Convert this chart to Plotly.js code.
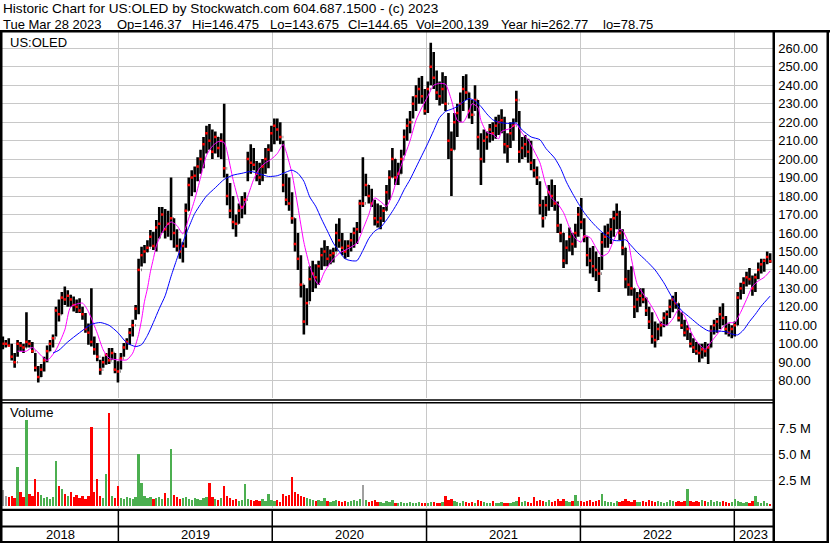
<!DOCTYPE html>
<html><head><meta charset="utf-8">
<script src="https://cdn.plot.ly/plotly-3.0.1.min.js"></script>
<style>html,body{margin:0;padding:0;background:#fff;overflow:hidden}</style>
</head><body><div id="chart" style="width:830px;height:543px"></div>
<script>
// ---------------- DATA (weekly bars) ----------------
const weekStart = '2018-04-02';
const high = [104,102,103,100,95,102,101,100,117,102,101,95,88,89,93,99,102,105,120,124,
128,131,129,126.5,125.6,124,124.7,120,116.6,111,130,104,100.4,91.4,93,95,97.7,97.7,95,90.5,
95,100.4,103,108.5,113,121,146,152.6,153.5,156,161.6,160.7,167,174,174,173,172,190,168,162,
157,155,176,190,194,196,201,205,212,218,219,216,215,212,214,230,192,187,180,170,
176,180,182,204,208,206,199,198,200,206,208,218,222,222,220,210,192,190,182,168,
160,148,132,130,142,145,143,145,152,156,153,151,152,165,168,160,156,156,160,163,
166,178,201,192,186,184,178,176,175,174,186,194,206,200,198,205,216,222,226,234,
240,244,245,238,242,263,258,248,242,247,245,225,215,225,230,236,245,246,236,232,
240,232,214,216,215,219,220,223,224,227,223,214,220,222,237,226,212,213,211,210,
200,196,188,178,180,186,189,186,177,165,160,156,163,160,165,174,179,168,158,152,
153,150,147,160,164,165,168,172,176,172,162,152,140,142,130,128,130,130,125,120,
117,112,111,112,117,118,124,126,128,122,117,113,110,106,103,101,100,100,101,100,
110,113,114,120,122,115,111,110,112,128,133,136,139,141,137,138,144,146,146,150,
149];
const low = [97,98,99,91,87,93,96,95,98,98,95,85,79,82,85,90,96,98,104,112,
116,121,120,120,117.5,116.6,116.6,113,106,99.5,98.5,94,90.5,83.2,87,88.7,89,91.4,84,79,
86,93,96.8,99.5,104,113,116,141.8,143.6,149.5,152.6,150.8,150,157,160,157,158,156,152,150,
146,144,152,172,180,182,188,192,195,203,205,200,203,201,200,190,175,168,162,158,
165,168,170,188,192,194,188,186,188,192,195,204,208,210,208,182,175,172,165,150,
140,125,105,110,123,128,130,132,140,142,142,143,144,150,152,148,146,147,150,152,
154,160,174,180,176,174,164,163,162,166,172,178,190,186,186,192,202,210,214,222,
226,230,230,224,225,240,238,232,229,230,226,200,180,205,212,220,226,232,222,219,
226,205,186,198,205,209,210,211,213,214,203,198,206,210,220,198,200,201,198,194,
190,186,170,163,169,172,174,172,160,155,141,143,150,148,152,158,162,155,142,138,
136,134,128,140,152,152,154,158,162,156,148,130,126,126,114,117,120,122,115,108,
100,98,102,104,109,110,114,117,119,112,108,104,102,98,95,94,90,92,93,89,
98,105,106,108,110,105,104,103,104,110,124,127,131,132,126,128,135,138,139,143,
143.675];
const close = [100,100,99,93,90,100,99,98,101,100,96,87,82,86,91,96,100,103,118,116,
125,124,126,124,121,120,118,116,108,106,101,97,93,86,90,94,91,95,86,85,
92,98,101,106,110,119,140,148,150,152,158,153,163,165,170,162,165,168,160,153,
150,153,172,186,190,191,196,200,208,214,210,204,212,206,210,195,180,172,166,165,
172,174,178,200,198,197,192,190,196,200,205,214,218,216,212,186,178,176,168,154,
146,132,112,122,135,138,136,142,148,150,146,148,149,160,156,152,150,153,156,160,
162,176,176,186,180,176,168,166,168,172,182,190,200,190,192,200,212,218,220,230,
234,238,234,226,238,250,244,236,234,238,230,210,205,220,225,230,238,236,226,224,
232,212,200,210,212,216,214,218,220,221,208,207,214,218,232,204,206,208,204,198,
194,190,175,168,175,182,180,176,164,160,145,152,158,154,160,170,166,158,148,145,
142,140,138,155,158,160,162,168,170,160,152,135,132,130,120,124,126,124,118,112,
104,102,108,110,114,116,120,124,122,114,110,106,108,100,98,96,95,97,96,98,
107,110,112,116,114,108,106,108,110,125,130,133,136,135,130,136,140,143,145,147,
144.65];
const firstOpen = 100;
// weekly volume, millions of shares
const volumeM = [1.5,1.0,0.9,1.0,0.8,3.8,1.3,0.9,8.3,1.2,
1.0,2.57,1.3,1.1,0.8,0.9,0.7,0.9,4.35,1.9,
1.6,1.2,1.0,1.3,0.9,1.1,0.8,1.0,0.7,1.0,
7.65,1.3,2.57,1.0,0.8,3.1,9.0,1.0,0.8,1.93,
0.8,0.7,0.9,0.8,0.7,0.9,5.0,2.2,1.0,0.8,
0.9,0.7,0.8,0.9,0.7,1.25,0.8,5.5,1.1,0.9,
0.7,0.8,0.9,0.7,0.6,0.8,0.7,0.6,0.8,0.9,
2.25,0.9,0.7,0.6,0.8,1.93,1.0,0.8,0.6,0.7,
0.5,0.6,2.1,0.7,0.6,0.5,0.6,0.5,0.7,0.5,
1.2,0.6,0.5,0.6,0.4,1.2,1.0,1.1,2.77,1.3,
1.2,1.0,0.9,0.8,0.7,0.6,0.5,0.6,0.5,0.8,
0.5,0.4,0.5,0.6,0.5,0.4,0.5,0.4,0.5,0.6,
0.5,0.7,2.03,0.6,0.4,0.5,0.6,0.4,0.4,0.3,
0.5,0.4,0.6,0.3,0.3,0.4,0.3,0.3,0.4,0.3,
0.3,0.4,0.3,0.3,0.3,0.4,0.4,0.3,0.3,0.4,
0.97,0.6,0.7,0.5,0.4,0.3,0.5,0.4,0.3,0.4,
0.3,0.6,0.5,0.4,0.3,0.3,0.5,0.3,0.3,0.4,
0.3,0.3,0.3,0.4,0.5,0.85,0.4,0.5,0.4,0.3,
0.85,0.5,0.6,0.5,0.4,0.6,0.4,0.5,0.7,0.5,
0.7,0.5,0.4,0.5,1.1,0.5,0.5,0.4,0.5,0.6,
0.4,0.5,0.6,1.2,0.5,0.4,0.4,0.3,0.5,0.4,
0.5,0.7,0.5,0.4,0.6,0.4,0.4,0.5,0.4,0.6,
0.5,0.4,0.5,0.4,0.3,0.4,0.6,0.5,0.4,0.5,
0.4,0.5,1.64,0.5,0.4,0.5,0.4,0.6,0.5,0.4,
0.6,0.4,0.5,0.4,0.5,0.4,0.3,0.4,0.7,0.5,
0.4,0.3,0.4,0.3,0.5,0.97,0.4,0.3,0.5,0.3,
0.2];
// short moving average (magenta), read at week indices
const magIdx = [5,8,10,15,18,21,23,27,29,32,34,36,39,42,44,46,47,48,49,50,
51,52,53,55,57,59,61,63,65,67,69,71,73,75,76,78,80,81,83,85,
87,89,91,93,95,96,98,100,102,104,106,107,109,111,114,117,120,122,124,126,
128,130,132,134,136,138,140,142,144,146,148,150,152,154,156,158,159,161,162,164,
166,168,169,172,174,176,178,180,182,184,186,188,190,192,194,196,197,199,201,203,
205,207,209,210,212,213,215,217,219,221,223,225,227,229,231,233,235,237,238,240,
242,244,246,248,250,252,254,256,258,260];
const magVal = [96,96,98,91,96.7,107.5,120,122,117.4,105.7,96.7,92.2,91.3,91.3,94.9,105,113,123,130,139,
146,153,157,163,166,164,159.5,168,178,190,202,207,209.5,209,204,189,177,173,180,189,
195,198,200,203,208,204,192,174,155,142,134,132,139,144,149,151.5,154.5,162,170,179,
177,174.5,181,192,201,210,221,228,234,240,241,240.5,232,221,220,226,230,228,221,214.5,
213.5,211,215,216.6,219,214,210.5,204.5,198,186,178.7,175.8,171,163,157,155,158.5,157.5,152,147.5,
149,156,162,161.3,154.7,146,132,127,122.4,117,111,110,113.5,118.5,115,107,101.5,98,97,101,
105,109,111.4,111.5,117,124,131,134,136,139.4];
// long moving average (blue), read at week indices
const bluIdx = [17,19,22,26,30,33,36,39,42,45,47,49,51,53,55,57,59,61,63,65,
67,69,72,75,78,81,84,87,90,93,96,98,100,102,104,106,108,110,112,114,
116,118,120,122,124,126,128,130,132,134,136,138,140,142,144,146,148,150,152,154,
156,158,160,162,164,166,168,171,174,176,179,182,184,187,189,191,193,195,197,199,
201,203,205,207,209,211,213,215,218,221,224,227,230,233,236,239,242,245,247,249,
251,253,255,257,260];
const bluVal = [95,96.5,101,106,110.5,111.5,110,106,100.5,98.5,99.5,104.5,111.5,119,126,136.5,146,155,163,170.5,
175.5,180,184.5,189,191.3,192.3,193.3,192,190.6,191,193,194,192.3,188,179.5,174.5,167.5,161,154.5,150,
146,145,145,150.5,157,161,163,167,171.7,177,183.5,189,195.5,202,208.5,215.5,222.5,225.8,227,228.5,
231,232.8,231.5,228.5,224.5,221.3,220,219.3,219.5,215.7,212,210.5,205.8,200.5,195,187.5,181.5,176,171,167,
163.5,160.5,158,156,155.8,156.3,153,149.5,145,140,133,124.5,118,114,110,107,106.9,106.5,105.3,104.8,
107.5,112,116,120.4,125.8];
const yearLabels = ['2018','2019','2020','2021','2022','2023'];
const volTickVals = [2.5, 5.0, 7.5];
const volTickText = ['2.5 M','5.0 M','7.5 M'];
const headerLine1 = 'Historic Chart for US:OLED by Stockwatch.com 604.687.1500 - (c) 2023';
const headerLine2 = ['Tue Mar 28 2023','Op=146.37','Hi=146.475','Lo=143.675','Cl=144.65','Vol=200,139','Year hi=262.77','lo=78.75'];
const symbolLabel = 'US:OLED';
const volumeLabel = 'Volume';

// ---------------- LAYOUT HELPERS ----------------
const W = 830, H = 543;
const px = x => x / W;
const py = y => 1 - y / H;
const FONT = 'Liberation Sans, Arial, sans-serif';
function addDays(s, n){ const d = new Date(s + 'T00:00:00Z'); d.setUTCDate(d.getUTCDate() + n); return d.toISOString().slice(0,10); }
const dates = close.map((_, i) => addDays(weekStart, 7 * i));
const open = close.map((c, i) => i === 0 ? firstOpen : close[i - 1]);
const volColors = close.map((c, i) => {
  const prev = i === 0 ? firstOpen : close[i - 1];
  return c > prev ? '#4caf50' : (c < prev ? '#ff0000' : '#a0a0a0');
});
const xRange = ['2018-03-31', '2023-04-03 12:00'];
const yearStarts = yearLabels.slice(1).map(y => y + '-01-01');

const traces = [
  { type: 'ohlc', x: dates, open: open, high: high, low: low, close: close,
    xaxis: 'x', yaxis: 'y', tickwidth: 0.15, hoverinfo: 'skip',
    increasing: { line: { color: '#000000', width: 2.6 } },
    decreasing: { line: { color: '#000000', width: 2.6 } } },
  { type: 'scatter', mode: 'markers', x: dates, y: close, xaxis: 'x', yaxis: 'y',
    marker: { color: '#ff0000', size: 2.5, symbol: 'square', line: { width: 0 } }, hoverinfo: 'skip' },
  { type: 'scatter', mode: 'lines', x: magIdx.map(i => dates[i]), y: magVal,
    xaxis: 'x', yaxis: 'y', line: { color: '#ff00ff', width: 1, shape: 'spline', smoothing: 0.6 }, hoverinfo: 'skip' },
  { type: 'scatter', mode: 'lines', x: bluIdx.map(i => dates[i]), y: bluVal,
    xaxis: 'x', yaxis: 'y', line: { color: '#0000ff', width: 1, shape: 'spline', smoothing: 0.6 }, hoverinfo: 'skip' },
  { type: 'bar', x: dates, y: volumeM, xaxis: 'x2', yaxis: 'y2',
    width: 5.5 * 86400000, marker: { color: volColors, line: { width: 0 } }, hoverinfo: 'skip' }
];

const gridC = '#c8c8c8';
const xCommon = { type: 'date', range: xRange, tickmode: 'array', tickvals: yearStarts,
  showticklabels: false, showgrid: true, gridcolor: gridC, gridwidth: 1, zeroline: false,
  showline: false, ticks: '', fixedrange: true, rangeslider: { visible: false } };

const shapes = [];
function rect(x0, y0, x1, y1){ shapes.push({ type: 'rect', xref: 'paper', yref: 'paper',
  x0: px(x0), x1: px(x1), y0: py(y1), y1: py(y0), fillcolor: '#000', line: { width: 0 } }); }
rect(0, 30, 830, 32.5);      // under header
rect(0, 30, 2.5, 543);       // left border
rect(772.5, 30, 775, 543);   // right axis line
rect(826.5, 30, 829, 543);   // right border
rect(0, 399.3, 775, 400.8);  // double line between panels
rect(0, 402, 775, 403.5);
rect(0, 508.8, 775, 511);    // under volume
rect(0, 525.5, 775, 527.5);  // between date rows
rect(0, 541, 829, 543);      // bottom border
yearStarts.forEach(d => shapes.push({ type: 'line', xref: 'x2', yref: 'paper',
  x0: d, x1: d, y0: py(541), y1: py(511), line: { color: '#000', width: 1.5 } }));

const annotations = [];
const t0 = Date.parse(xRange[0] + 'Z'), t1 = Date.parse(xRange[1].replace(' ', 'T') + 'Z');
yearLabels.forEach(y => {
  const a = Math.max(Date.parse(y + '-01-01T00:00:00Z'), t0);
  const b = Math.min(Date.parse((+y + 1) + '-01-01T00:00:00Z'), t1);
  const mid = new Date((a + b) / 2).toISOString().replace('T', ' ').slice(0, 19);
  annotations.push({ xref: 'x2', yref: 'paper', x: mid, y: py(534.5), text: y, showarrow: false,
    xanchor: 'center', yanchor: 'middle', font: { family: FONT, size: 13, color: '#000' } });
});
annotations.push({ xref: 'paper', yref: 'paper', x: px(2), y: py(8.5), text: headerLine1, showarrow: false,
  borderpad: 0, xanchor: 'left', yanchor: 'middle', font: { family: FONT, size: 13.6, color: '#000' } });
const header2X = [2, 116, 191, 269, 347, 415, 500, 602];
headerLine2.forEach((t, i) => annotations.push({ xref: 'paper', yref: 'paper', x: px(header2X[i]), y: py(24.5),
  text: t, showarrow: false, borderpad: 0, xanchor: 'left', yanchor: 'middle', font: { family: FONT, size: 13, color: '#000' } }));
annotations.push({ xref: 'paper', yref: 'paper', x: px(8), y: py(42), text: symbolLabel, showarrow: false,
  xanchor: 'left', yanchor: 'middle', font: { family: FONT, size: 13, color: '#000' } });
annotations.push({ xref: 'paper', yref: 'paper', x: px(8), y: py(413), text: volumeLabel, showarrow: false,
  xanchor: 'left', yanchor: 'middle', font: { family: FONT, size: 13, color: '#000' } });

const layout = {
  width: W, height: H, margin: { l: 0, r: 0, t: 0, b: 0, pad: 0 },
  paper_bgcolor: '#fff', plot_bgcolor: '#fff', showlegend: false,
  font: { family: FONT, size: 13, color: '#000' },
  xaxis: Object.assign({}, xCommon, { domain: [px(2), px(773.3)], anchor: 'y' }),
  xaxis2: Object.assign({}, xCommon, { domain: [px(2), px(773.3)], anchor: 'y2', matches: 'x' }),
  yaxis: { domain: [py(398), py(31)], range: [70.63, 269.37], side: 'right', anchor: 'x',
    tickmode: 'linear', tick0: 0, dtick: 10, tickformat: '.2f', ticks: '', ticklabelstandoff: 4,
    showgrid: true, gridcolor: gridC, gridwidth: 1, zeroline: false, showline: false, fixedrange: true,
    tickfont: { family: FONT, size: 13, color: '#000' } },
  yaxis2: { domain: [py(508), py(403)], range: [-0.2, 9.94], side: 'right', anchor: 'x2',
    tickmode: 'array', tickvals: volTickVals, ticktext: volTickText, ticks: '', ticklabelstandoff: 4,
    showgrid: true, gridcolor: gridC, gridwidth: 1, zeroline: false, showline: false, fixedrange: true,
    tickfont: { family: FONT, size: 13, color: '#000' } },
  bargap: 0, shapes: shapes, annotations: annotations
};
Plotly.newPlot('chart', traces, layout, { displayModeBar: false, staticPlot: true });
</script></body></html>
